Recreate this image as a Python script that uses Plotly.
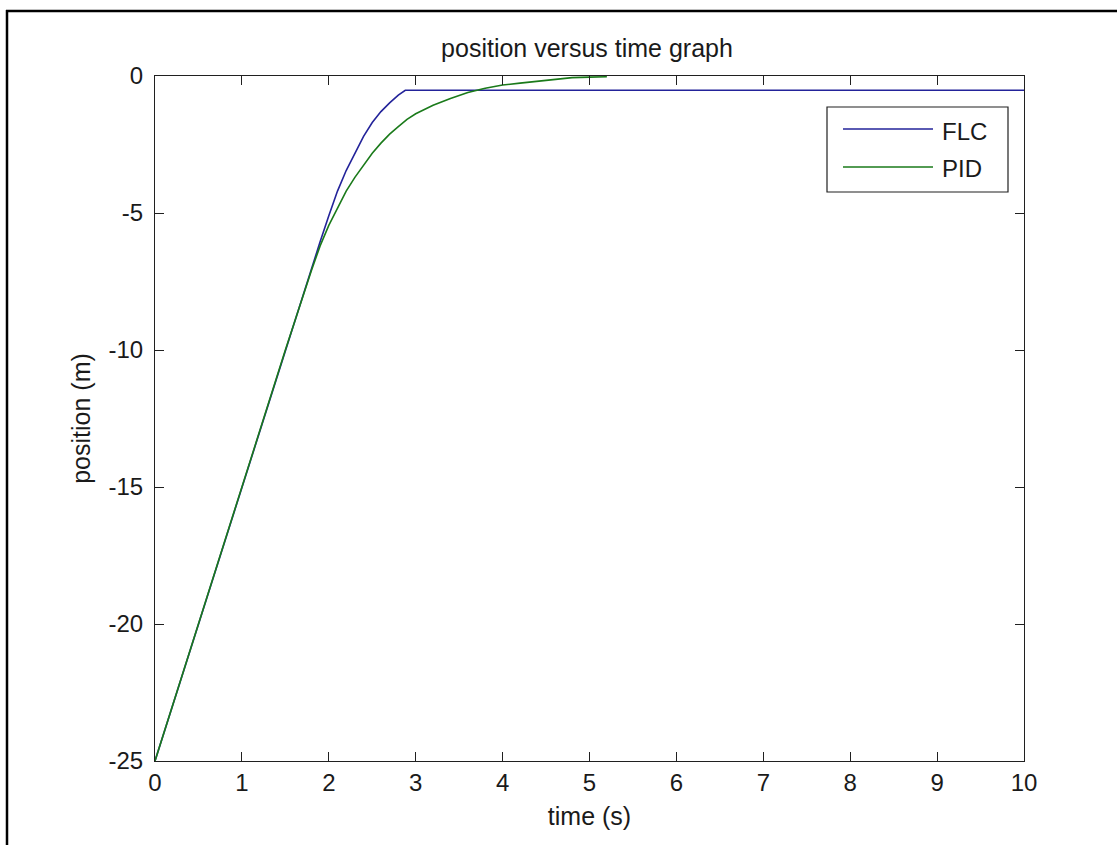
import plotly.graph_objects as go

# Step response of the two controllers
flc_t = [0, 0.5, 1.0, 1.5, 1.8, 1.9, 2.0, 2.1, 2.2, 2.3, 2.4, 2.5, 2.6, 2.7, 2.8, 2.88, 10]
flc_y = [-25, -20.0, -15.0, -10.0, -7.0, -6.05, -5.1, -4.2, -3.45, -2.8, -2.2, -1.7,
         -1.3, -0.98, -0.7, -0.52, -0.52]

pid_t = [0, 0.5, 1.0, 1.5, 1.8, 1.9, 2.0, 2.1, 2.2, 2.3, 2.4, 2.5, 2.6, 2.7, 2.8, 2.9,
         3.0, 3.2, 3.4, 3.6, 3.8, 4.0, 4.2, 4.4, 4.6, 4.8, 5.0, 5.2]
pid_y = [-25, -20.0, -15.0, -10.0, -7.1, -6.2, -5.45, -4.8, -4.2, -3.7, -3.25, -2.82,
         -2.45, -2.12, -1.85, -1.58, -1.38, -1.07, -0.82, -0.6, -0.45, -0.33, -0.26,
         -0.2, -0.13, -0.06, -0.04, -0.03]

series_names = ["FLC", "PID"]
series_colors = ["#23239a", "#1a7a1a"]

x_ticks = list(range(0, 11))
x_labels = [str(v) for v in x_ticks]
y_ticks = [-25, -20, -15, -10, -5, 0]
y_labels = ["-25", "-20", "-15", "-10", "-5", "0"]

W, H = 1117, 845
L, R, T, B = 155, 1024, 76, 761
FONT = "Liberation Sans, Arial, Helvetica, sans-serif"
TXT = "#1a1a1a"


def px(x):
    return (x - L) / (R - L)


def py(y):
    return (B - y) / (B - T)


fig = go.Figure()
fig.add_trace(go.Scatter(x=flc_t, y=flc_y, mode="lines", name=series_names[0],
                         line=dict(color=series_colors[0], width=1.6)))
fig.add_trace(go.Scatter(x=pid_t, y=pid_y, mode="lines", name=series_names[1],
                         line=dict(color=series_colors[1], width=1.6)))

axis_common = dict(showline=True, linecolor="#202020", linewidth=1.2, mirror="ticks",
                   ticks="inside", ticklen=9, tickcolor="#202020", tickwidth=1.2,
                   showgrid=False, zeroline=False,
                   tickfont=dict(family=FONT, size=24, color=TXT))

fig.update_xaxes(range=[0, 10], tickvals=x_ticks, ticktext=x_labels, **axis_common,
                 title=dict(text="time (s)", font=dict(family=FONT, size=25, color=TXT),
                            standoff=12))
fig.update_yaxes(range=[-25, 0], tickvals=y_ticks, ticktext=y_labels, **axis_common,
                 ticklabelstandoff=6,
                 title=dict(text="position (m)", font=dict(family=FONT, size=25, color=TXT),
                            standoff=10))

shapes = []
# outer figure frame (top and left edges)
shapes.append(dict(type="line", xref="paper", yref="paper", x0=px(6), x1=px(W + 20),
                   y0=py(11), y1=py(11), line=dict(color="black", width=2.5)))
shapes.append(dict(type="line", xref="paper", yref="paper", x0=px(7), x1=px(7),
                   y0=py(10), y1=py(H + 20), line=dict(color="black", width=2.5)))

# legend box
lx0, lx1, ly0, ly1 = 827, 1008, 107, 192
shapes.append(dict(type="rect", xref="paper", yref="paper", x0=px(lx0), x1=px(lx1),
                   y0=py(ly0), y1=py(ly1), line=dict(color="#202020", width=1.2),
                   fillcolor="white", layer="above"))
annotations = []
row_y = [129, 167]
for name, color, yy in zip(series_names, series_colors, row_y):
    shapes.append(dict(type="line", xref="paper", yref="paper", x0=px(843), x1=px(933),
                       y0=py(yy), y1=py(yy), line=dict(color=color, width=1.6),
                       layer="above"))
    annotations.append(dict(text=name, xref="paper", yref="paper", x=px(940), y=py(yy + 2),
                            xanchor="left", yanchor="middle", showarrow=False,
                            font=dict(family=FONT, size=24, color=TXT)))

fig.update_layout(
    width=W, height=H,
    margin=dict(l=L, r=W - R, t=T, b=H - B),
    paper_bgcolor="white", plot_bgcolor="white",
    showlegend=False,
    title=dict(text="position versus time graph", xref="paper", x=px(587),
               xanchor="center", y=1 - 48 / H, yanchor="middle", yref="container",
               font=dict(family=FONT, size=25, color=TXT)),
    shapes=shapes, annotations=annotations,
)

fig.write_html("out.html")
